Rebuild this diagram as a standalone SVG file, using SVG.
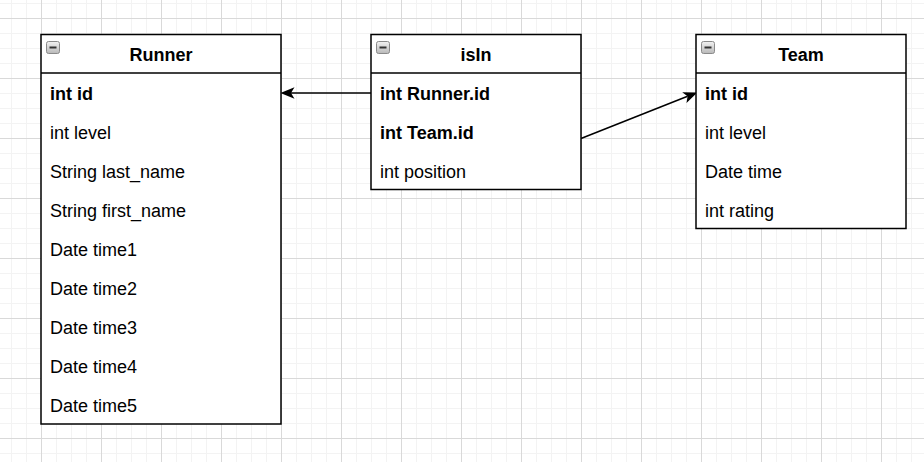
<svg xmlns="http://www.w3.org/2000/svg" width="924" height="462" viewBox="0 0 924 462">
  <style>
    .box { fill: #ffffff; stroke: #000000; stroke-width: 1.5; }
    .sep { stroke: #000000; stroke-width: 1.5; }
    .title { font-family: "Liberation Sans", Arial, sans-serif; font-size: 18px; font-weight: bold; fill: #000000; text-anchor: middle; }
    .row { font-family: "Liberation Sans", Arial, sans-serif; font-size: 18px; fill: #000000; }
    .key { font-weight: bold; }
    .edge { fill: none; stroke: #000000; stroke-width: 1.5; }
    .icon { fill: url(#iconGrad); stroke: #8a8a8a; stroke-width: 1; }
    .iconbar { stroke: #333333; stroke-width: 2; }
  </style>
  <defs>
    <pattern id="minor" patternUnits="userSpaceOnUse" x="41" y="18" width="15" height="15">
      <path d="M0.5 0 V15 M0 0.5 H15" stroke="#f3f3f3" stroke-width="1" fill="none"/>
    </pattern>
    <pattern id="major" patternUnits="userSpaceOnUse" x="41" y="18" width="60" height="60">
      <path d="M0.5 0 V60 M0 0.5 H60" stroke="#d9d9d9" stroke-width="1" fill="none"/>
    </pattern>
    <linearGradient id="iconGrad" x1="0" y1="0" x2="0" y2="1">
      <stop offset="0" stop-color="#f2f2f2"/>
      <stop offset="1" stop-color="#b8b8b8"/>
    </linearGradient>
    <marker id="arrow" markerUnits="userSpaceOnUse" markerWidth="14" markerHeight="12" viewBox="0 0 12 10" refX="3" refY="5" orient="auto">
      <path d="M0 0 L12 5 L0 10 L3 5 Z" fill="#000000"/>
    </marker>
  </defs>

  <rect width="924" height="462" fill="#ffffff"/>
  <rect width="924" height="462" fill="url(#minor)"/>
  <rect width="924" height="462" fill="url(#major)"/>

  <g id="connectors">
    <path class="edge" d="M371 93 L291 93" marker-end="url(#arrow)"/>
    <path class="edge" d="M581 138.5 L687.6 96.3" marker-end="url(#arrow)"/>
  </g>

  <g id="Runner">
    <rect class="box" x="41" y="34.5" width="240" height="389.5"/>
    <line class="sep" x1="41" y1="73" x2="281" y2="73"/>
    <rect class="icon" x="46.5" y="41.5" width="13" height="12" rx="2"/>
    <line class="iconbar" x1="49.5" y1="47.5" x2="56.5" y2="47.5"/>
    <text class="title" x="161" y="61">Runner</text>
    <text class="row key" x="50" y="99.5">int id</text>
    <text class="row" x="50" y="138.5">int level</text>
    <text class="row" x="50" y="177.5">String last_name</text>
    <text class="row" x="50" y="216.5">String first_name</text>
    <text class="row" x="50" y="255.5">Date time1</text>
    <text class="row" x="50" y="294.5">Date time2</text>
    <text class="row" x="50" y="333.5">Date time3</text>
    <text class="row" x="50" y="372.5">Date time4</text>
    <text class="row" x="50" y="411.5">Date time5</text>
  </g>

  <g id="isIn">
    <rect class="box" x="371" y="34.5" width="210" height="155"/>
    <line class="sep" x1="371" y1="73" x2="581" y2="73"/>
    <rect class="icon" x="376.5" y="41.5" width="13" height="12" rx="2"/>
    <line class="iconbar" x1="379.5" y1="47.5" x2="386.5" y2="47.5"/>
    <text class="title" x="476" y="61">isIn</text>
    <text class="row key" x="380" y="99.5">int Runner.id</text>
    <text class="row key" x="380" y="138.5">int Team.id</text>
    <text class="row" x="380" y="177.5">int position</text>
  </g>

  <g id="Team">
    <rect class="box" x="696" y="34.5" width="210" height="194"/>
    <line class="sep" x1="696" y1="73" x2="906" y2="73"/>
    <rect class="icon" x="701.5" y="41.5" width="13" height="12" rx="2"/>
    <line class="iconbar" x1="704.5" y1="47.5" x2="711.5" y2="47.5"/>
    <text class="title" x="801" y="61">Team</text>
    <text class="row key" x="705" y="99.5">int id</text>
    <text class="row" x="705" y="138.5">int level</text>
    <text class="row" x="705" y="177.5">Date time</text>
    <text class="row" x="705" y="216.5">int rating</text>
  </g>
</svg>
